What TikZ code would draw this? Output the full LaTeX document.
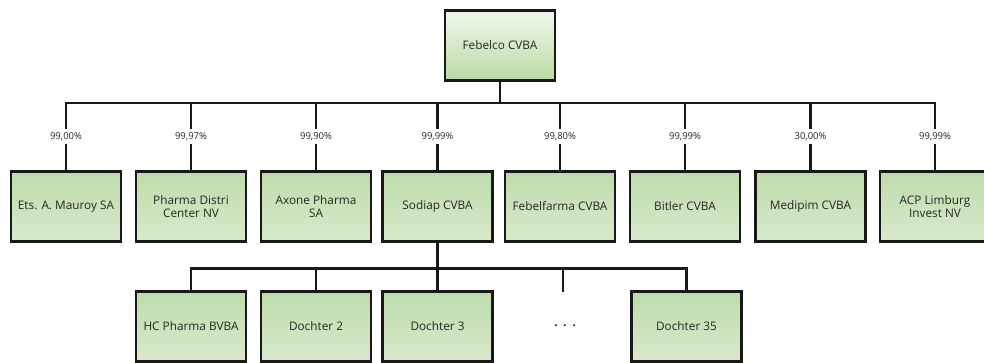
\documentclass[tikz,border=0pt]{standalone}
\usepackage{fontspec}
\setmainfont{Open Sans}
\begin{document}
\begin{tikzpicture}[x=1pt,y=-1pt,
  ent/.style={draw=black!90, line width=2.2pt, minimum width=110pt, minimum height=70pt,
    inner sep=2pt, align=center, font=\fontsize{11.8}{13.5}\selectfont, text=black!85},
  sub/.style={ent, top color={rgb,255:red,190;green,220;blue,172}, bottom color={rgb,255:red,216;green,233;blue,204}},
  root/.style={ent, top color={rgb,255:red,240;green,247;blue,236}, bottom color={rgb,255:red,186;green,219;blue,166}},
  con/.style={line width=2.2pt, black!90},
  pct/.style={fill=white, inner sep=1pt, minimum height=15pt, font=\fontsize{9.5}{10}\selectfont, text=black!85}]
\useasboundingbox (0,0) rectangle (984,363);
\node[root] (top) at (500,45.5) {Febelco CVBA};
\node[sub] (c1) at (66,206.5) {Ets. A. Mauroy SA};
\node[sub] (c2) at (191,206.5) {Pharma Distri\\Center NV};
\node[sub] (c3) at (316,206.5) {Axone Pharma\\SA};
\node[sub] (c4) at (437.5,206.5) {Sodiap CVBA};
\node[sub] (c5) at (560,206.5) {Febelfarma CVBA};
\node[sub] (c6) at (685,206.5) {Bitler CVBA};
\node[sub] (c7) at (810.5,206.5) {Medipim CVBA};
\node[sub] (c8) at (935,206.5) {ACP Limburg\\Invest NV};
\coordinate (b0) at (500,103);
\draw[con] (top.south) -- (b0);
\foreach \n/\p in {c1/99{,}00\%, c2/99{,}97\%, c3/99{,}90\%, c4/99{,}99\%, c5/99{,}80\%, c6/99{,}99\%, c7/30{,}00\%, c8/99{,}99\%}{
  \draw[con] (\n.north) -- node[pct]{\p} (\n.north |- b0) -- (b0);
}
\node[sub] (d1) at (191,326.5) {HC Pharma BVBA};
\node[sub] (d2) at (316,326.5) {Dochter 2};
\node[sub] (d3) at (437.5,326.5) {Dochter 3};
\node[sub] (d35) at (686.5,326.5) {Dochter 35};
\node[font=\fontsize{11}{11}\selectfont\bfseries] (dots) at (565,326) {.\hspace{6pt}.\hspace{6pt}.};
\coordinate (b1) at (437.5,268.5);
\coordinate (dd) at (563,291.5);
\draw[con] (c4.south) -- (b1);
\foreach \n in {d1,d2,d3,d35}{
  \draw[con] (\n.north) |- (b1);
}
\draw[con] (dd) |- (b1);
\end{tikzpicture}
\end{document}
